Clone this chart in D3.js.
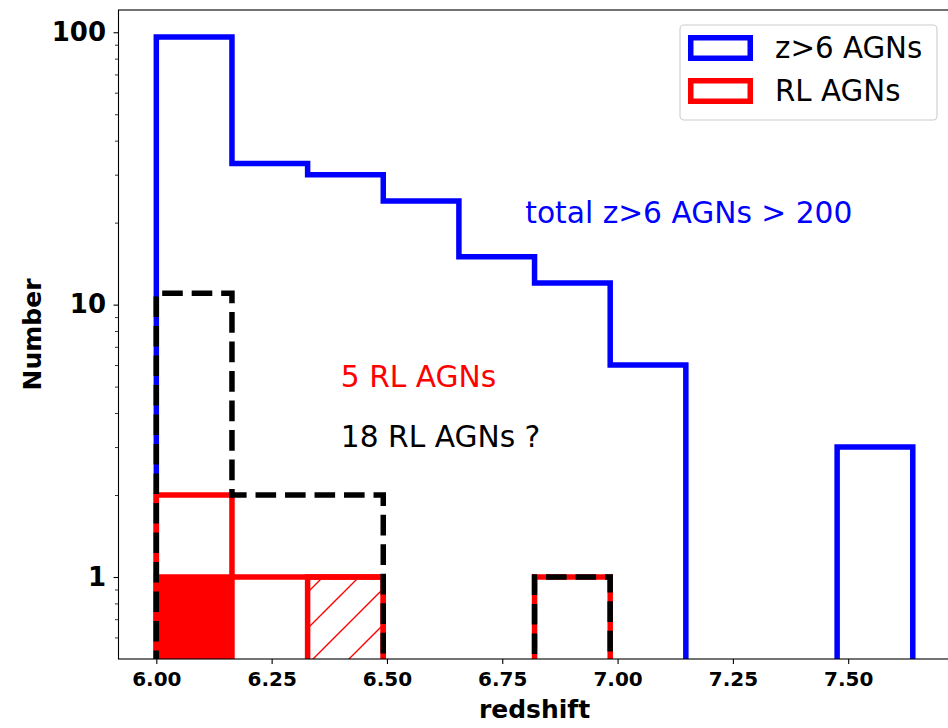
<!DOCTYPE html>
<html>
<head>
<meta charset="utf-8">
<script src="https://cdn.jsdelivr.net/npm/d3@7"></script>
<style>
  html, body { margin: 0; padding: 0; background: #fff; }
  svg { display: block; }
  text { font-family: "DejaVu Sans", sans-serif; }
</style>
</head>
<body>
<script>
// Redshift histogram of z>6 AGNs, with radio-loud (RL) subsets, on a log count axis.

// Bin edges in redshift (10 bins from 6.0 to 7.64)
const binEdges = [6.000, 6.164, 6.328, 6.492, 6.656, 6.820, 6.984, 7.148, 7.312, 7.476, 7.640];
// Counts per bin
const allAgnCounts  = [96, 33, 30, 24, 15, 12, 6, 0, 0, 3];
const rlAgnCounts   = [2, 1, 1, 0, 0, 1, 0, 0, 0, 0];
const rlFilledCounts = [1, 0, 0, 0, 0, 0, 0, 0, 0, 0];
const rlHatchedCounts = [0, 0, 1, 0, 0, 0, 0, 0, 0, 0];
const rlCandidateCounts = [11, 2, 2, 0, 0, 1, 0, 0, 0, 0];

const xTicks = [6.00, 6.25, 6.50, 6.75, 7.00, 7.25, 7.50];
const yMajorTicks = [1, 10, 100];
const yMinorTicks = [0.6, 0.7, 0.8, 0.9, 2, 3, 4, 5, 6, 7, 8, 9, 20, 30, 40, 50, 60, 70, 80, 90];

const legendItems = [
  { label: "z>6 AGNs", color: "#0000ff" },
  { label: "RL AGNs", color: "#ff0000" }
];
const notes = [
  { text: "total z>6 AGNs > 200", x: 6.8, y: 20, color: "#0000ff" },
  { text: "5 RL AGNs", x: 6.4, y: 5, color: "#ff0000" },
  { text: "18 RL AGNs ?", x: 6.4, y: 3, color: "#000000" }
];

const W = 948, H = 728;
const plot = { left: 118.5, top: 10, right: 950.6, bottom: 659 };

const svg = d3.select("body").append("svg")
  .attr("width", W).attr("height", H)
  .attr("viewBox", `0 0 ${W} ${H}`);

const x = d3.scaleLinear().domain([5.918, 7.722]).range([plot.left, plot.right]);
const y = d3.scaleLog().domain([0.5, 120.7]).range([plot.bottom, plot.top]);

const defs = svg.append("defs");
defs.append("clipPath").attr("id", "plot-clip")
  .append("rect")
  .attr("x", plot.left).attr("y", plot.top)
  .attr("width", plot.right - plot.left).attr("height", plot.bottom - plot.top);

const hatch = defs.append("pattern")
  .attr("id", "hatch")
  .attr("patternUnits", "userSpaceOnUse")
  .attr("width", 36).attr("height", 36);
hatch.append("path")
  .attr("d", "M-9,9 L9,-9 M0,36 L36,0 M27,45 L45,27")
  .attr("stroke", "#ff0000").attr("stroke-width", 1.4).attr("fill", "none");

// Zero counts fall below the visible range; the clip path hides them.
const yFloor = plot.bottom + 12;
const yPix = c => c > 0 ? y(c) : yFloor;

function stepPath(counts) {
  const pts = [[x(binEdges[0]), yFloor]];
  counts.forEach((c, i) => {
    pts.push([x(binEdges[i]), yPix(c)]);
    pts.push([x(binEdges[i + 1]), yPix(c)]);
  });
  pts.push([x(binEdges[binEdges.length - 1]), yFloor]);
  return d3.line()(pts);
}

const g = svg.append("g").attr("clip-path", "url(#plot-clip)");
const lw = 5.5;

// All z>6 AGNs
g.append("path").attr("d", stepPath(allAgnCounts))
  .attr("fill", "none").attr("stroke", "#0000ff").attr("stroke-width", lw)
  .attr("stroke-linejoin", "miter");

// RL AGNs outline
g.append("path").attr("d", stepPath(rlAgnCounts))
  .attr("fill", "none").attr("stroke", "#ff0000").attr("stroke-width", lw)
  .attr("stroke-linejoin", "miter");

// Filled RL bar
g.selectAll("rect.filled")
  .data(rlFilledCounts.map((c, i) => ({ c, i })).filter(d => d.c > 0))
  .join("rect").attr("class", "filled")
  .attr("x", d => x(binEdges[d.i]))
  .attr("width", d => x(binEdges[d.i + 1]) - x(binEdges[d.i]))
  .attr("y", d => y(d.c))
  .attr("height", d => yFloor - y(d.c))
  .attr("fill", "#ff0000").attr("stroke", "#ff0000").attr("stroke-width", lw);

// Hatched RL bar
g.selectAll("rect.hatched")
  .data(rlHatchedCounts.map((c, i) => ({ c, i })).filter(d => d.c > 0))
  .join("rect").attr("class", "hatched")
  .attr("x", d => x(binEdges[d.i]))
  .attr("width", d => x(binEdges[d.i + 1]) - x(binEdges[d.i]))
  .attr("y", d => y(d.c))
  .attr("height", d => yFloor - y(d.c))
  .attr("fill", "url(#hatch)").attr("stroke", "#ff0000").attr("stroke-width", lw);

// RL candidates, dashed
g.append("path").attr("d", stepPath(rlCandidateCounts))
  .attr("fill", "none").attr("stroke", "#000000").attr("stroke-width", lw)
  .attr("stroke-dasharray", "20.6 8.9")
  .attr("stroke-linejoin", "miter");

// Notes
svg.append("g").selectAll("text")
  .data(notes).join("text")
  .attr("x", d => x(d.x)).attr("y", d => y(d.y))
  .attr("fill", d => d.color)
  .attr("font-size", 29.7)
  .text(d => d.text);

// Axes
const xAxis = svg.append("g")
  .attr("transform", `translate(0,${plot.bottom})`)
  .call(d3.axisBottom(x).tickValues(xTicks).tickFormat(d3.format(".2f"))
    .tickSize(5).tickPadding(7.5).tickSizeOuter(0));
xAxis.select(".domain").remove();
xAxis.selectAll("text").attr("font-size", 20).attr("font-weight", "bold")
  .attr("font-family", "DejaVu Sans").attr("fill", "#000");
xAxis.selectAll("line").attr("stroke", "#000").attr("stroke-width", 1.1);

const yAxis = svg.append("g")
  .attr("transform", `translate(${plot.left},0)`)
  .call(d3.axisLeft(y).tickValues(yMajorTicks).tickFormat(d3.format("d"))
    .tickSize(5).tickPadding(7.5).tickSizeOuter(0));
yAxis.select(".domain").remove();
yAxis.selectAll("text").attr("font-size", 26).attr("font-weight", "bold")
  .attr("font-family", "DejaVu Sans").attr("fill", "#000");
yAxis.selectAll("line").attr("stroke", "#000").attr("stroke-width", 1.1);

const yMinor = svg.append("g")
  .attr("transform", `translate(${plot.left},0)`)
  .call(d3.axisLeft(y).tickValues(yMinorTicks).tickFormat("").tickSize(3.5).tickSizeOuter(0));
yMinor.select(".domain").remove();
yMinor.selectAll("line").attr("stroke", "#000").attr("stroke-width", 0.8);

// Frame
svg.append("rect")
  .attr("x", plot.left).attr("y", plot.top)
  .attr("width", plot.right - plot.left).attr("height", plot.bottom - plot.top)
  .attr("fill", "none").attr("stroke", "#000").attr("stroke-width", 1.1);

// Axis titles
svg.append("text")
  .attr("x", (plot.left + plot.right) / 2).attr("y", 718)
  .attr("text-anchor", "middle").attr("font-size", 25).attr("font-weight", "bold")
  .text("redshift");
svg.append("text")
  .attr("transform", `translate(41,${(plot.top + plot.bottom) / 2}) rotate(-90)`)
  .attr("text-anchor", "middle").attr("font-size", 25).attr("font-weight", "bold")
  .text("Number");

// Legend
const legend = svg.append("g");
legend.append("rect")
  .attr("x", 680).attr("y", 25).attr("width", 257).attr("height", 95)
  .attr("rx", 4).attr("ry", 4)
  .attr("fill", "rgba(255,255,255,0.8)").attr("stroke", "#cccccc").attr("stroke-width", 1.1);
const li = legend.selectAll("g.item").data(legendItems).join("g")
  .attr("transform", (d, i) => `translate(0,${i * 43})`);
li.append("rect")
  .attr("x", 690.75).attr("y", 37.75).attr("width", 59.5).attr("height", 20.5)
  .attr("fill", "none").attr("stroke", d => d.color).attr("stroke-width", lw);
li.append("text")
  .attr("x", 775).attr("y", 58.3)
  .attr("font-size", 29.3).attr("fill", "#000")
  .text(d => d.label);
</script>
</body>
</html>
